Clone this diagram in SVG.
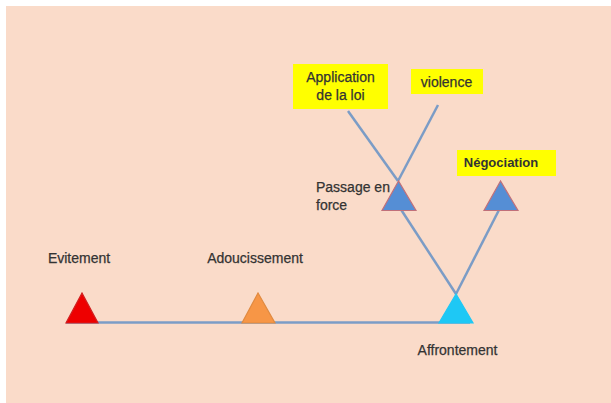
<svg xmlns="http://www.w3.org/2000/svg" width="611" height="403" viewBox="0 0 611 403">
<style>
.t{font-family:"Liberation Sans",Arial,sans-serif;font-size:14px;fill:#333333;stroke:#333333;stroke-width:0.25}
.b{font-weight:bold;stroke-width:0;font-size:13px}
.box{fill:#ffff00}
.ln{stroke:#7b9cc6;stroke-width:2.5;fill:none}
.tri{stroke-width:1.2;stroke-linejoin:miter}
</style>
<rect width="611" height="403" fill="#ffffff"/>
<rect x="6" y="6" width="605" height="397" fill="#fadbc9"/>
<g id="connectors">
<line class="ln" x1="66" y1="322.5" x2="470" y2="322.5" stroke="#8fa6bf"/>
<line class="ln" x1="348" y1="111" x2="398" y2="181"/>
<line class="ln" x1="438" y1="105" x2="398" y2="181"/>
<line class="ln" x1="400" y1="208" x2="456" y2="294"/>
<line class="ln" x1="456" y1="294" x2="500" y2="208"/>
</g>
<g id="evitement">
<polygon class="tri" points="82,293 66,323 98,323" fill="#ee0000" stroke="#d02020"/>
<text class="t" x="79" y="263" text-anchor="middle">Evitement</text>
</g>
<g id="adoucissement">
<polygon class="tri" points="258,293 242,323 275,323" fill="#f79646" stroke="#e08a40"/>
<text class="t" x="255" y="263" text-anchor="middle">Adoucissement</text>
</g>
<g id="affrontement">
<polygon class="tri" points="456,294 439,323 473,323" fill="#1ec8f5" stroke="#1ec8f5"/>
<text class="t" x="457.5" y="355" text-anchor="middle">Affrontement</text>
</g>
<g id="passage">
<polygon class="tri" points="398.5,181 382,210.5 416,210.5" fill="#558ed5" stroke="#c0707a"/>
<text class="t" x="316" y="192">Passage en</text>
<text class="t" x="316" y="210">force</text>
</g>
<g id="negociation">
<polygon class="tri" points="500.5,181 484,210.5 518,210.5" fill="#558ed5" stroke="#c0707a"/>
<rect class="box" x="457" y="150" width="99" height="26"/>
<text class="t b" x="501" y="167" text-anchor="middle">Négociation</text>
</g>
<g id="application">
<rect class="box" x="293" y="64" width="95" height="45"/>
<text class="t" x="340.5" y="82" text-anchor="middle">Application</text>
<text class="t" x="340.5" y="100" text-anchor="middle">de la loi</text>
</g>
<g id="violence">
<rect class="box" x="411" y="69" width="72" height="25"/>
<text class="t" x="446.5" y="86.5" text-anchor="middle">violence</text>
</g>
</svg>
